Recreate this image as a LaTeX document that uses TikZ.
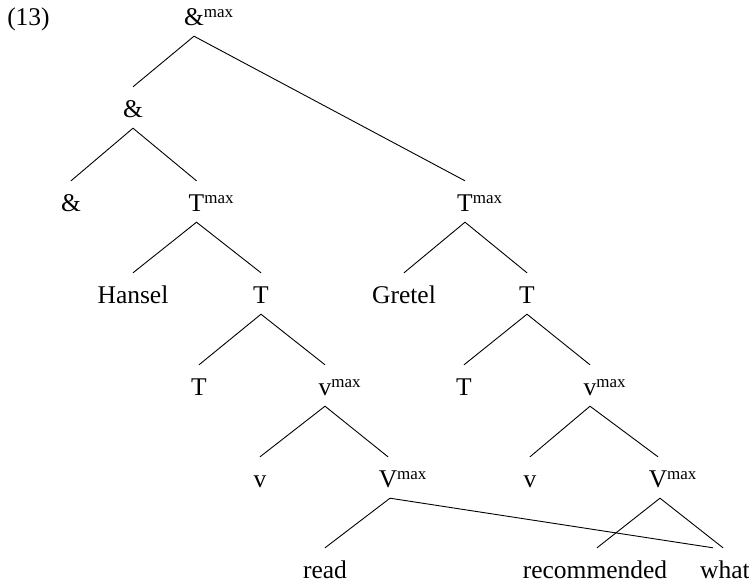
\documentclass[tikz,border=0pt]{standalone}
\usepackage{fontspec}
\setmainfont{Liberation Serif}
\newcommand\mymax{\rlap{\raisebox{8pt}{\fontsize{17}{18}\selectfont max}}}
\begin{document}
\begin{tikzpicture}[x=1pt,y=-1pt,
  lbl/.style={inner sep=0pt, anchor=base, text height=30pt, text depth=11pt,
    font=\fontsize{25.5}{28}\selectfont},
  edge/.style={line width=0.9pt}]
\useasboundingbox (0,0) rectangle (749,584);
\node[inner sep=0pt, anchor=base, font=\fontsize{25.5}{28}\selectfont] (ex) at (28.5,25) {(13)};
% level 0
\node[lbl] (amax) at (194,25) {\&\mymax};
% level 1
\node[lbl] (amp1) at (133,117) {\&};
% level 2
\node[lbl] (amp2) at (71,211) {\&};
\node[lbl] (tmL) at (196.5,211) {T\mymax};
\node[lbl] (tmR) at (465,211) {T\mymax};
% level 3
\node[lbl] (hansel) at (133,303) {Hansel};
\node[lbl] (tL) at (261,303) {T};
\node[lbl] (gretel) at (404,303) {Gretel};
\node[lbl] (tR) at (527,303) {T};
% level 4
\node[lbl] (ttL) at (199,395) {T};
\node[lbl] (vmL) at (325,395) {v\mymax};
\node[lbl] (ttR) at (464,395) {T};
\node[lbl] (vmR) at (590,395) {v\mymax};
% level 5
\node[lbl] (vL) at (260,487) {v};
\node[lbl] (VmL) at (388,487) {V\mymax};
\node[lbl] (vR) at (530,487) {v};
\node[lbl] (VmR) at (658,487) {V\mymax};
% level 6
\node[lbl] (read) at (325,578) {read};
\node[lbl] (recom) at (595,578) {recommended};
\node[lbl] (what) at (725,578) {what};
% edges
\draw[edge] (amp1.north) -- (amax.south) -- (tmR.north);
\draw[edge] (amp2.north) -- (amp1.south) -- (tmL.north);
\draw[edge] (hansel.north) -- (tmL.south) -- (tL.north);
\draw[edge] (gretel.north) -- (tmR.south) -- (tR.north);
\draw[edge] (ttL.north) -- (tL.south) -- (vmL.north);
\draw[edge] (ttR.north) -- (tR.south) -- (vmR.north);
\draw[edge] (vL.north) -- (vmL.south) -- (VmL.north);
\draw[edge] (vR.north) -- (vmR.south) -- (VmR.north);
\draw[edge] (read.north) -- ([xshift=2pt]VmL.south) -- ([xshift=-12pt]what.north);
\draw[edge] ([xshift=2pt]recom.north) -- ([xshift=2pt]VmR.south) -- ([xshift=-2pt]what.north);
\end{tikzpicture}
\end{document}
